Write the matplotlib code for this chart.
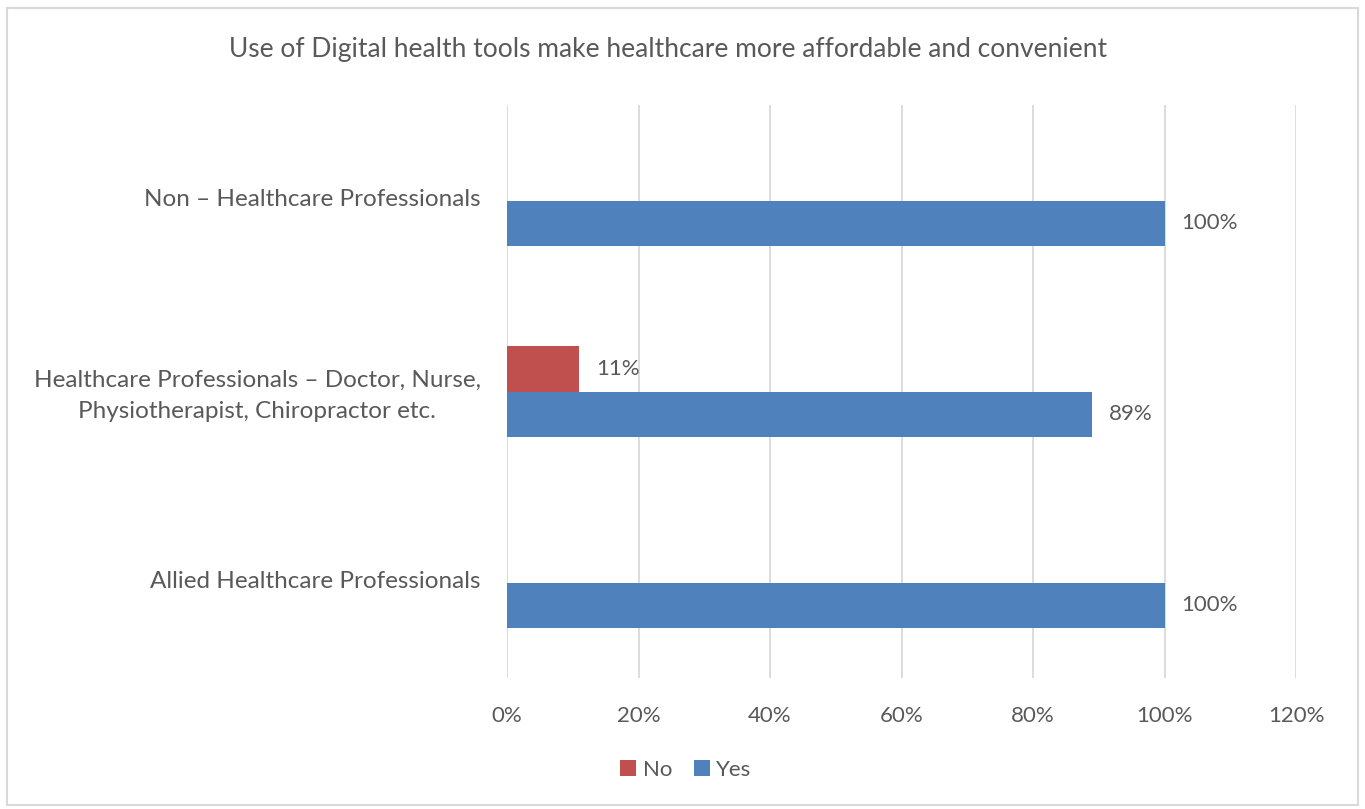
import numpy as np
import matplotlib.pyplot as plt
from matplotlib.patches import Rectangle
from matplotlib.transforms import ScaledTranslation

# survey groups, listed bottom to top
groups = ["Allied Healthcare Professionals",
          "Healthcare Professionals \u2013 Doctor, Nurse,\nPhysiotherapist, Chiropractor etc.",
          "Non \u2013 Healthcare Professionals"]
no_pct = [0, 11, 0]
yes_pct = [100, 89, 100]
xticks = [0, 20, 40, 60, 80, 100, 120]

red = "#C0504D"
blue = "#4F81BD"
grey_txt = "#595959"

plt.rcParams['font.family'] = ['Lato', 'DejaVu Sans']

fig = plt.figure(figsize=(13.65, 8.09), dpi=100)
ax = fig.add_axes([507/1365, 1 - 678/809, (1296-507)/1365, (678-105)/809])

y = np.arange(len(groups))
h = 0.236
ax.barh(y + h/2, no_pct, height=h, color=red, label="No")
ax.barh(y - h/2, yes_pct, height=h, color=blue, label="Yes")

# value labels, only for bars that exist
for yi, v in zip(y + h/2, no_pct):
    if v > 0:
        ax.text(v + 2.6, yi, f"{v}%", va="center", ha="left", fontsize=16, color=grey_txt)
for yi, v in zip(y - h/2, yes_pct):
    if v > 0:
        ax.text(v + 2.6, yi, f"{v}%", va="center", ha="left", fontsize=16, color=grey_txt)

ax.set_xlim(0, 120)
ax.set_ylim(-0.5, 2.5)
ax.set_xticks(xticks)
ax.set_xticklabels([f"{t}%" for t in xticks])
ax.set_yticks(y)
ax.set_yticklabels(groups, ha="right", multialignment="center", linespacing=1.6)
ax.tick_params(axis="both", length=0, colors=grey_txt)
ax.tick_params(axis="x", pad=20, labelsize=16)
ax.tick_params(axis="y", pad=19, labelsize=17.5)
# nudge category labels up a little
up = ScaledTranslation(0, 3/100, fig.dpi_scale_trans)
for lbl in ax.get_yticklabels():
    lbl.set_transform(lbl.get_transform() + up)
ax.grid(axis="x", color="#D9D9D9", linewidth=1.3)
ax.set_axisbelow(True)
for s in ax.spines.values():
    s.set_visible(False)

fig.text(668/1365, 1 - 50/809, "Use of Digital health tools make healthcare more affordable and convenient",
         ha="center", va="center", fontsize=19, color=grey_txt)

fig.legend(loc="center", bbox_to_anchor=(686/1365, 1 - 770/809), ncol=2, frameon=False,
           fontsize=16, labelcolor=grey_txt, handlelength=0.7, handleheight=0.7,
           handletextpad=0.3, columnspacing=1.0)

# outer chart border
fig.patches.append(Rectangle((7/1365, 4/809), 1351/1365, 1 - 12/809, transform=fig.transFigure,
                             fill=False, edgecolor="#D9D9D9", linewidth=1.5))

fig.savefig("out.png", dpi=100)
